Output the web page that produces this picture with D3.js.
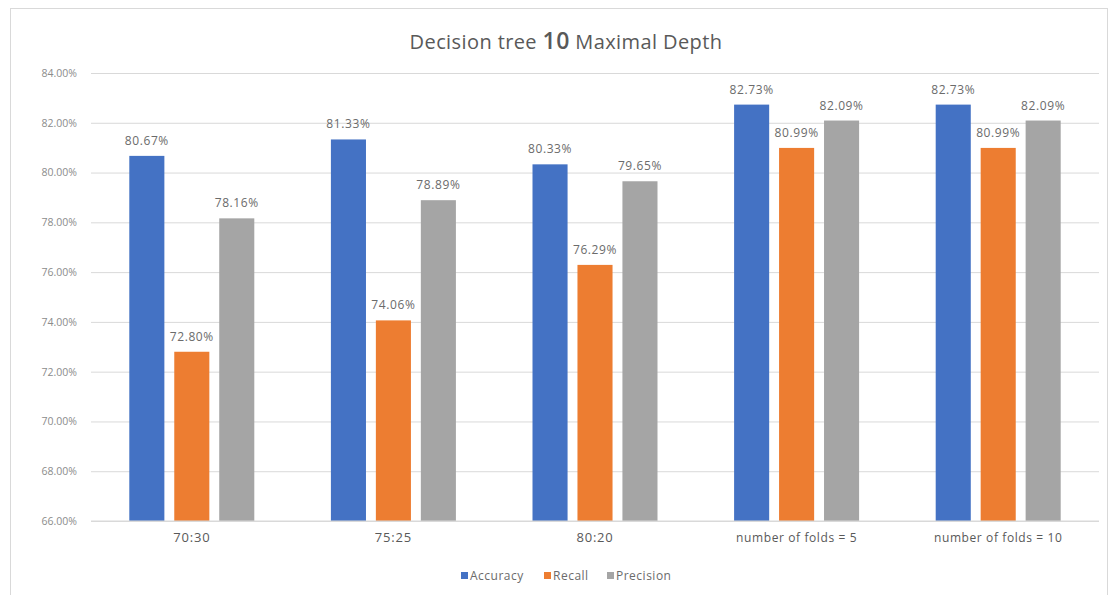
<!DOCTYPE html>
<html>
<head>
<meta charset="utf-8">
<script src="https://cdn.jsdelivr.net/npm/d3@7"></script>
<style>
  html, body { margin: 0; padding: 0; background: #fff; }
  svg { display: block; }
  text { font-family: "Open Sans", "Liberation Sans", sans-serif; }
</style>
</head>
<body>
<svg id="chart" width="1117" height="595"></svg>
<script>
// Chart data
const categories = ["70:30", "75:25", "80:20", "number of folds = 5", "number of folds = 10"];
const seriesNames = ["Accuracy", "Recall", "Precision"];
const accuracy  = [80.67, 81.33, 80.33, 82.73, 82.73];
const recall    = [72.80, 74.06, 76.29, 80.99, 80.99];
const precision = [78.16, 78.89, 79.65, 82.09, 82.09];
const yTicks = [66, 68, 70, 72, 74, 76, 78, 80, 82, 84];
const colors = ["#4472C4", "#ED7D31", "#A5A5A5"];

const seriesValues = [accuracy, recall, precision];

const svg = d3.select("#chart");
const W = 1117, H = 595;
const margin = { left: 91, right: 18, top: 73, bottom: 74 };

// Chart area frame
svg.append("rect")
  .attr("x", 10.5).attr("y", 8.5)
  .attr("width", 1097).attr("height", 600)
  .attr("fill", "#fff").attr("stroke", "#d9d9d9").attr("stroke-width", 1);

const x0 = d3.scaleBand()
  .domain(categories)
  .range([margin.left, W - margin.right])
  .padding(0);

const groupWidth = 125;
const x1 = d3.scaleBand()
  .domain(seriesNames)
  .range([(x0.bandwidth() - groupWidth) / 2, (x0.bandwidth() + groupWidth) / 2])
  .paddingInner(0.22)
  .paddingOuter(0);

const y = d3.scaleLinear()
  .domain([66, 84])
  .range([H - margin.bottom, margin.top]);

// Gridlines and y labels
const yAxis = d3.axisLeft(y)
  .tickValues(yTicks)
  .tickSize(-(W - margin.right - margin.left))
  .tickFormat(d => d.toFixed(2) + "%")
  .tickPadding(14);

const gy = svg.append("g")
  .attr("transform", `translate(${margin.left},0)`)
  .call(yAxis);
gy.select(".domain").remove();
gy.selectAll(".tick line").attr("stroke", "#d9d9d9");
gy.selectAll(".tick text")
  .attr("fill", "#8c8c8c")
  .attr("font-size", 10.5);

// Bars
const groups = svg.append("g").selectAll("g")
  .data(categories)
  .join("g")
  .attr("transform", d => `translate(${x0(d)},0)`);

const cells = groups.selectAll("g")
  .data((c, i) => seriesNames.map((s, k) => ({ series: s, k, value: seriesValues[k][i] })))
  .join("g");

cells.append("rect")
  .attr("x", d => x1(d.series))
  .attr("width", x1.bandwidth())
  .attr("y", d => y(d.value))
  .attr("height", d => y(66) - y(d.value))
  .attr("fill", d => colors[d.k]);

cells.append("text")
  .attr("x", d => x1(d.series) + x1.bandwidth() / 2)
  .attr("y", d => y(d.value) - 11)
  .attr("text-anchor", "middle")
  .attr("fill", "#6b6b6b")
  .attr("font-size", 12)
  .attr("letter-spacing", 0.6)
  .text(d => d.value.toFixed(2) + "%");

// X axis baseline and category labels
svg.append("line")
  .attr("x1", margin.left).attr("x2", W - margin.right)
  .attr("y1", y(66)).attr("y2", y(66))
  .attr("stroke", "#d9d9d9");

const xAxis = d3.axisBottom(x0).tickSize(0).tickPadding(12);
const gx = svg.append("g")
  .attr("transform", `translate(0,${y(66)})`)
  .call(xAxis);
gx.select(".domain").remove();
gx.selectAll(".tick text")
  .attr("fill", "#595959")
  .attr("font-size", d => d.length > 6 ? 12 : 13)
  .attr("letter-spacing", d => d.length > 6 ? 0.6 : 0.8);

// Title
const title = svg.append("text")
  .attr("x", 566).attr("y", 49)
  .attr("text-anchor", "middle")
  .attr("fill", "#595959")
  .attr("font-size", 20)
  .attr("letter-spacing", 0.4);
title.append("tspan").text("Decision tree ");
title.append("tspan").attr("font-size", 23).attr("font-weight", "600").text("10");
title.append("tspan").text(" Maximal Depth");

// Legend
const legendItems = seriesNames.map((s, k) => ({ s, k }));
const legend = svg.append("g").attr("transform", "translate(461,580)");
const offsets = [0, 83, 146];
const li = legend.selectAll("g")
  .data(legendItems)
  .join("g")
  .attr("transform", (d, i) => `translate(${offsets[i]},0)`);
li.append("rect")
  .attr("x", 0).attr("y", -8)
  .attr("width", 7).attr("height", 7)
  .attr("fill", d => colors[d.k]);
li.append("text")
  .attr("x", 9).attr("y", 0)
  .attr("fill", "#6b6b6b")
  .attr("font-size", 12)
  .attr("letter-spacing", 0.5)
  .text(d => d.s);
</script>
</body>
</html>
